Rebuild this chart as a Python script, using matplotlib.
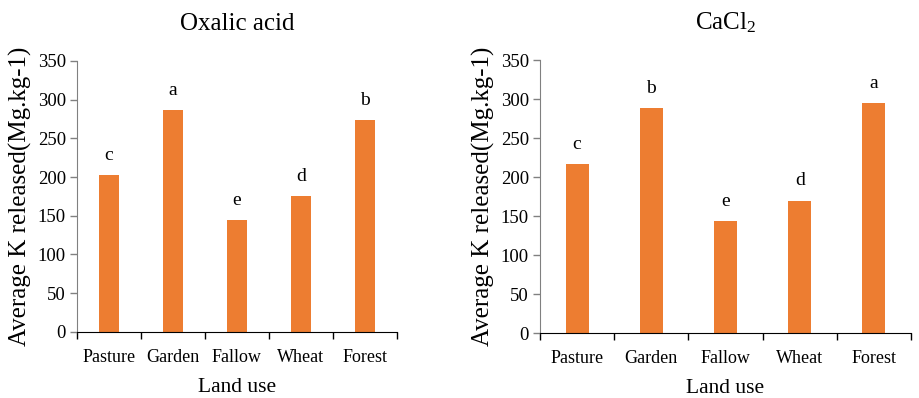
import matplotlib
matplotlib.use("Agg")
import matplotlib.pyplot as plt
import numpy as np

land_use = ["Pasture", "Garden", "Fallow", "Wheat", "Forest"]
oxalic = [203, 286, 145, 176, 274]
oxalic_letters = ["c", "a", "e", "d", "b"]
cacl2 = [217, 288, 144, 170, 295]
cacl2_letters = ["c", "b", "e", "d", "a"]

plt.rcParams["font.family"] = ["Liberation Serif", "DejaVu Serif"]
plt.rcParams["mathtext.fontset"] = "custom"
plt.rcParams["mathtext.rm"] = "Liberation Serif"
plt.rcParams["mathtext.it"] = "Liberation Serif:italic"
BAR = "#ED7D31"

fig = plt.figure(figsize=(9.19, 3.98), dpi=100)
ax1 = fig.add_axes([0.0838, 0.166, 0.348, 0.681])
ax2 = fig.add_axes([0.5876, 0.163, 0.4037, 0.686])


def draw(ax, vals, letters, title):
    x = np.arange(len(vals))
    ax.bar(x, vals, width=0.31, color=BAR)
    for xi, v, lab in zip(x, vals, letters):
        ax.annotate(lab, (xi, v), xytext=(0, 8), textcoords="offset points",
                    ha="center", va="bottom", fontsize=14)
    ax.set_xlim(-0.5, len(vals) - 0.5)
    ax.set_ylim(0, 350)
    ax.set_yticks(range(0, 351, 50))
    ax.set_xticks(np.arange(-0.5, len(vals), 1.0))
    ax.set_xticklabels([])
    ax.set_xticks(x, minor=True)
    ax.set_xticklabels(land_use, minor=True)
    ax.tick_params(axis="x", which="major", length=5, width=1, direction="out")
    ax.tick_params(axis="x", which="minor", length=0, pad=12, labelsize=13)
    ax.tick_params(axis="y", length=5, width=1, labelsize=13.5, pad=3,
                   color="#808080")
    for s in ("top", "right"):
        ax.spines[s].set_visible(False)
    ax.spines["left"].set_color("#808080")
    ax.spines["bottom"].set_color("black")
    ax.set_xlabel("Land use", fontsize=15.5, labelpad=9)
    ax.set_ylabel("Average K released(Mg.kg-1)", fontsize=18, labelpad=4)
    ax.set_title(title, fontsize=18, pad=22)


draw(ax1, oxalic, oxalic_letters, "Oxalic acid")
draw(ax2, cacl2, cacl2_letters, "CaCl$_2$")

fig.savefig("out.png", dpi=100)
